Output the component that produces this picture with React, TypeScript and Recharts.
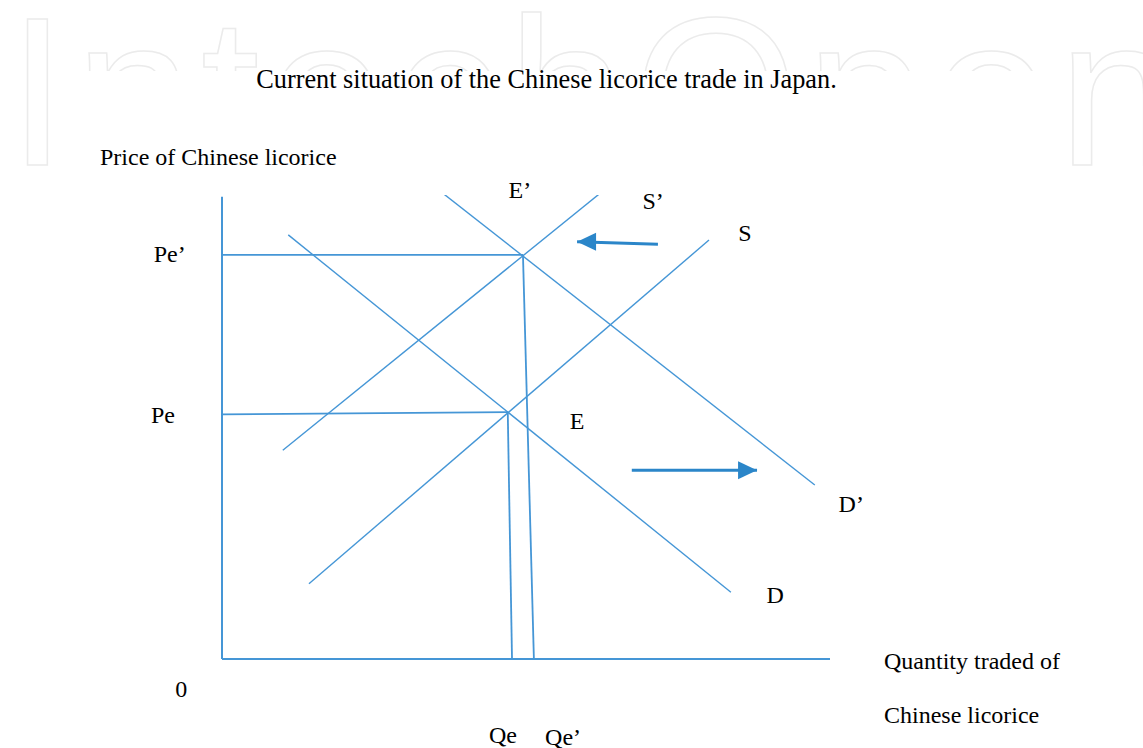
import React from "react";
import { ComposedChart, Line, ReferenceDot, ReferenceLine, XAxis, YAxis } from "recharts";

// quantity (x) and price (y) both on a 0..100 scale
const demand = [
  { q: 10.9, p: 91.4 },
  { q: 83.7, p: 14.4 },
];
const demandShifted = [
  { q: 36.3, p: 100.4 },
  { q: 97.5, p: 37.5 },
];
const supply = [
  { q: 14.3, p: 16.2 },
  { q: 80.1, p: 90.3 },
];
const supplyShifted = [
  { q: 10.0, p: 45.0 },
  { q: 64.1, p: 102.4 },
];

// equilibrium points
const eqE = { q: 47.0, p: 53.2 };
const eqE2 = { q: 49.5, p: 87.1 };
const qeFoot = 47.7;
const qe2Foot = 51.3;

const arrowSupply = [
  { q: 71.7, p: 89.4 },
  { q: 58.4, p: 89.9 },
];
const arrowDemand = [
  { q: 67.4, p: 40.7 },
  { q: 88.0, p: 40.7 },
];

const pointLabels = [
  { q: 49.0, p: 101.1, text: "E’" },
  { q: 70.9, p: 98.9, text: "S’" },
  { q: 86.0, p: 92.0, text: "S" },
  { q: -8.6, p: 87.3, text: "Pe’" },
  { q: -9.7, p: 52.8, text: "Pe" },
  { q: 58.4, p: 51.3, text: "E" },
  { q: 103.5, p: 33.6, text: "D’" },
  { q: 91.0, p: 14.0, text: "D" },
  { q: -6.7, p: -6.3, text: "0" },
  { q: 46.2, p: -16.2, text: "Qe" },
  { q: 56.1, p: -16.6, text: "Qe’" },
];

const LINE = "#4596D6";
const ARROW = "#2B86C9";
const SERIF = "'Liberation Serif', 'Times New Roman', serif";

const arrowHead = (dir: number) => (props: any) => {
  const { cx, cy, index } = props;
  if (index !== 1) return <g key={index} />;
  const len = 19;
  const half = 9;
  const pts = `${cx},${cy} ${cx - dir * len},${cy - half} ${cx - dir * len},${cy + half}`;
  return <polygon key={index} points={pts} fill={ARROW} />;
};

const textStyle = { fontFamily: SERIF, fontSize: 24, fill: "#000" };

export default function App() {
  return (
    <div style={{ position: "absolute", left: 0, top: 0, width: 1143, height: 748, background: "#fff" }}>
      {/* watermark, mostly hidden behind the figure */}
      <svg width={1143} height={748} style={{ position: "absolute", left: 0, top: 0 }}>
        <text
          x={8}
          y={165}
          fontFamily="'Liberation Sans', Arial, sans-serif"
          fontSize={212}
          letterSpacing={8}
          fill="#fff"
          stroke="#ebebeb"
          strokeWidth={1.5}
        >
          IntechOpen
        </text>
        <rect x={77} y={71} width={968} height={677} fill="#fff" />
      </svg>
      <div
        style={{
          position: "absolute",
          left: 0,
          width: 1093,
          top: 65,
          textAlign: "center",
          fontFamily: SERIF,
          fontSize: 26.3,
          color: "#000",
        }}
      >
        Current situation of the Chinese licorice trade in Japan.
      </div>
      <div style={{ position: "absolute", left: 100, top: 144, fontFamily: SERIF, fontSize: 24 }}>
        Price of Chinese licorice
      </div>
      <div style={{ position: "absolute", left: 884, top: 648, fontFamily: SERIF, fontSize: 24 }}>
        Quantity traded of
      </div>
      <div style={{ position: "absolute", left: 884, top: 702, fontFamily: SERIF, fontSize: 24 }}>
        Chinese licorice
      </div>
      <div style={{ position: "absolute", left: 0, top: 0 }}>
        <ComposedChart width={1143} height={748} margin={{ top: 195, right: 313, bottom: 89, left: 222 }}>
          <XAxis type="number" dataKey="q" domain={[0, 100]} hide allowDataOverflow />
          <YAxis type="number" dataKey="p" domain={[0, 100]} hide allowDataOverflow />

          {/* axes */}
          <ReferenceLine
            segment={[{ x: 0, y: 0 }, { x: 0, y: 99.6 }]}
            stroke={LINE}
            strokeWidth={2}
            ifOverflow="visible"
          />
          <ReferenceLine
            segment={[{ x: 0, y: 0 }, { x: 100, y: 0 }]}
            stroke={LINE}
            strokeWidth={2}
            ifOverflow="visible"
          />

          {/* guide lines to equilibria */}
          <ReferenceLine segment={[{ x: 0, y: eqE2.p }, { x: eqE2.q, y: eqE2.p }]} stroke={LINE} strokeWidth={1.8} ifOverflow="visible" />
          <ReferenceLine segment={[{ x: 0, y: eqE.p - 0.5 }, { x: eqE.q, y: eqE.p }]} stroke={LINE} strokeWidth={1.8} ifOverflow="visible" />
          <ReferenceLine segment={[{ x: eqE.q, y: eqE.p }, { x: qeFoot, y: 0 }]} stroke={LINE} strokeWidth={1.8} ifOverflow="visible" />
          <ReferenceLine segment={[{ x: eqE2.q, y: eqE2.p }, { x: qe2Foot, y: 0 }]} stroke={LINE} strokeWidth={1.8} ifOverflow="visible" />

          {/* curves */}
          <Line data={demand} dataKey="p" stroke={LINE} strokeWidth={1.4} dot={false} isAnimationActive={false} />
          <Line data={demandShifted} dataKey="p" stroke={LINE} strokeWidth={1.4} dot={false} isAnimationActive={false} />
          <Line data={supply} dataKey="p" stroke={LINE} strokeWidth={1.4} dot={false} isAnimationActive={false} />
          <Line data={supplyShifted} dataKey="p" stroke={LINE} strokeWidth={1.4} dot={false} isAnimationActive={false} />

          {/* shift arrows */}
          <Line data={arrowSupply} dataKey="p" stroke={ARROW} strokeWidth={3} dot={arrowHead(-1)} isAnimationActive={false} />
          <Line data={arrowDemand} dataKey="p" stroke={ARROW} strokeWidth={3} dot={arrowHead(1)} isAnimationActive={false} />

          {pointLabels.map((l) => (
            <ReferenceDot
              key={l.text}
              x={l.q}
              y={l.p}
              r={0}
              ifOverflow="visible"
              label={{ value: l.text, position: "center", style: textStyle }}
            />
          ))}
        </ComposedChart>
      </div>
    </div>
  );
}
